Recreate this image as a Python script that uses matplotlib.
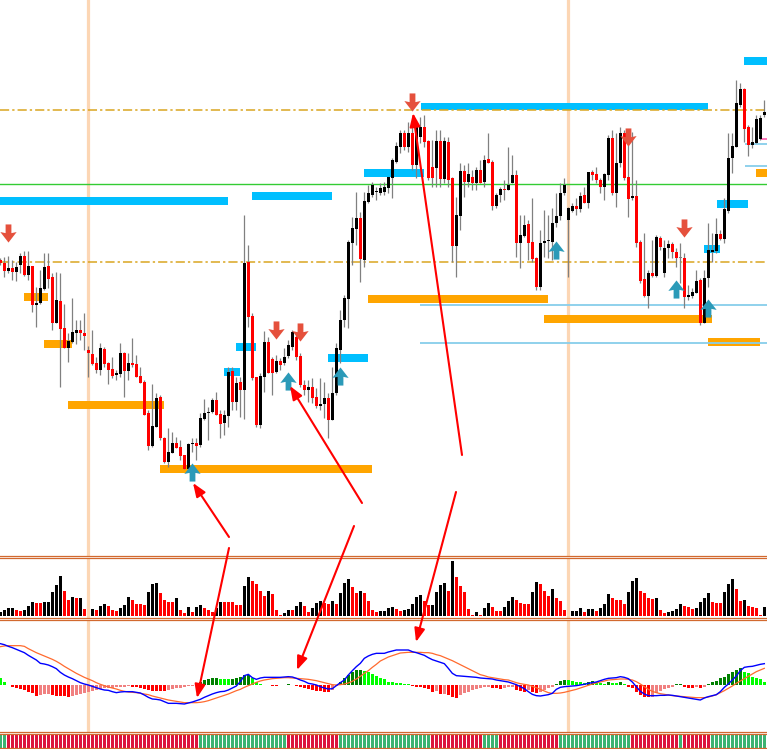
import numpy as np
import matplotlib
matplotlib.use("Agg")
import matplotlib.pyplot as plt
from matplotlib.path import Path
from matplotlib.patches import FancyArrowPatch

# candles (price in chart points)
opens = [340, 337, 329, 332, 328, 335, 344, 325, 334, 295,
         297, 311, 334, 323, 277, 299, 272, 252, 258, 267,
         270, 267, 250, 246, 237, 230, 251, 237, 231, 225,
         226, 247, 229, 237, 236, 224, 218, 187, 154, 173,
         203, 162, 138, 147, 157, 153, 145, 131, 156, 157,
         155, 181, 187, 188, 200, 186, 177, 184, 229, 198,
         218, 210, 338, 284, 223, 175, 223, 258, 241, 228,
         239, 237, 244, 253, 263, 244, 215, 210, 213, 203,
         194, 196, 202, 180, 207, 250, 280, 301, 357, 371,
         382, 340, 398, 405, 408, 407, 408, 412, 422, 438,
         453, 467, 453, 467, 435, 463, 473, 459, 433, 432,
         459, 421, 458, 422, 354, 384, 429, 418, 423, 417,
         430, 418, 441, 438, 394, 405, 411, 410, 417, 425,
         357, 364, 376, 358, 342, 313, 357, 359, 358, 377,
         384, 407, 380, 389, 394, 391, 405, 397, 428, 426,
         420, 413, 425, 462, 407, 437, 467, 423, 402, 404,
         358, 321, 304, 327, 324, 362, 327, 352, 356, 348,
         342, 342, 303, 304, 307, 320, 277, 322, 348, 349,
         366, 361, 389, 442, 453, 495, 511, 473, 455, 457,
         461, 485]
highs = [342, 343, 344, 340, 338, 347, 349, 349, 334, 313,
         330, 347, 347, 327, 328, 327, 296, 267, 302, 280,
         280, 287, 254, 270, 243, 257, 253, 238, 243, 230,
         257, 248, 247, 262, 245, 233, 220, 190, 216, 207,
         205, 163, 172, 168, 163, 160, 145, 157, 162, 162,
         187, 201, 193, 202, 208, 190, 190, 233, 233, 223,
         223, 385, 355, 287, 223, 227, 269, 263, 243, 245,
         242, 252, 260, 270, 268, 247, 220, 220, 222, 212,
         222, 218, 207, 233, 257, 290, 305, 360, 383, 408,
         388, 408, 415, 418, 413, 417, 418, 423, 442, 458,
         470, 470, 478, 477, 480, 483, 485, 460, 460, 470,
         470, 463, 463, 423, 403, 437, 435, 437, 430, 433,
         440, 445, 467, 440, 407, 413, 420, 453, 445, 430,
         385, 385, 380, 402, 343, 370, 390, 385, 392, 407,
         417, 422, 393, 397, 402, 408, 413, 428, 430, 433,
         422, 427, 465, 470, 467, 473, 470, 462, 468, 420,
         360, 367, 330, 360, 365, 364, 360, 360, 358, 352,
         357, 347, 315, 312, 330, 322, 330, 377, 367, 382,
         370, 402, 467, 467, 520, 517, 512, 475, 473, 485,
         485, 500]
lows = [335, 323, 327, 320, 319, 327, 324, 320, 288, 273,
        296, 310, 312, 270, 277, 213, 252, 238, 257, 256,
        260, 250, 223, 235, 227, 225, 233, 216, 222, 220,
        223, 203, 220, 233, 223, 217, 185, 150, 153, 173,
        160, 137, 133, 147, 152, 140, 131, 130, 148, 140,
        153, 180, 160, 187, 185, 162, 165, 173, 190, 190,
        183, 181, 273, 220, 173, 172, 208, 227, 205, 227,
        230, 235, 242, 250, 240, 213, 205, 198, 197, 192,
        190, 182, 162, 180, 205, 237, 273, 272, 335, 355,
        318, 333, 397, 403, 400, 405, 405, 407, 402, 437,
        447, 450, 448, 430, 422, 457, 453, 420, 413, 413,
        413, 417, 413, 338, 323, 370, 403, 413, 410, 410,
        417, 413, 437, 390, 392, 398, 400, 410, 417, 343,
        332, 363, 340, 338, 310, 310, 343, 342, 340, 373,
        380, 405, 323, 388, 385, 388, 397, 392, 420, 417,
        407, 400, 420, 405, 393, 433, 420, 383, 400, 353,
        317, 303, 292, 323, 323, 350, 323, 342, 342, 333,
        317, 292, 300, 302, 307, 275, 277, 313, 338, 347,
        360, 357, 387, 427, 453, 493, 458, 444, 452, 457,
        460, 483]
closes = [337, 329, 332, 328, 333, 344, 325, 334, 295, 297,
          312, 333, 321, 277, 300, 271, 252, 259, 268, 270,
          267, 264, 247, 236, 230, 252, 236, 230, 224, 227,
          247, 229, 237, 235, 223, 217, 185, 154, 174, 202,
          162, 138, 148, 157, 152, 144, 131, 156, 157, 154,
          182, 187, 188, 200, 185, 176, 185, 228, 198, 217,
          210, 337, 283, 222, 175, 224, 258, 227, 227, 239,
          235, 243, 255, 268, 243, 215, 210, 213, 202, 194,
          196, 202, 180, 207, 252, 280, 302, 358, 372, 382,
          341, 399, 407, 415, 409, 412, 413, 423, 440, 454,
          467, 453, 467, 435, 473, 473, 458, 422, 422, 459,
          421, 459, 420, 354, 385, 429, 418, 426, 417, 430,
          417, 440, 437, 394, 405, 411, 410, 415, 425, 357,
          365, 375, 357, 341, 313, 357, 359, 360, 377, 384,
          407, 415, 392, 394, 391, 404, 397, 428, 425, 420,
          413, 426, 462, 407, 437, 467, 422, 401, 404, 357,
          319, 304, 327, 324, 363, 353, 352, 356, 348, 342,
          342, 303, 305, 308, 319, 277, 322, 350, 350, 366,
          361, 391, 442, 454, 497, 511, 471, 455, 458, 481,
          482, 488]

volumes = [13, 18, 23, 24, 17, 15, 17, 30, 42, 40,
           40, 42, 43, 72, 93, 120, 75, 48, 58, 54,
           55, 21, 1, 21, 17, 30, 36, 30, 18, 15,
           24, 33, 57, 48, 36, 35, 33, 72, 95, 98,
           70, 48, 43, 43, 53, 18, 8, 26, 13, 26,
           33, 25, 18, 13, 23, 43, 43, 41, 41, 33,
           33, 90, 118, 105, 95, 75, 60, 75, 66, 18,
           3, 10, 18, 18, 30, 43, 30, 13, 23, 38,
           46, 38, 36, 46, 36, 68, 98, 111, 88, 68,
           75, 68, 46, 18, 13, 15, 16, 23, 28, 21,
           16, 18, 21, 36, 58, 63, 46, 33, 34, 72,
           93, 99, 75, 165, 118, 90, 73, 21, 3, 13,
           3, 23, 40, 28, 16, 15, 26, 45, 58, 48,
           40, 36, 35, 73, 101, 95, 76, 60, 80, 55,
           46, 18, 1, 15, 16, 23, 13, 20, 21, 16,
           23, 36, 65, 55, 48, 47, 36, 73, 106, 115,
           75, 70, 55, 51, 55, 18, 10, 13, 14, 20,
           36, 31, 28, 20, 23, 43, 53, 68, 43, 40,
           38, 73, 95, 111, 80, 46, 48, 30, 26, 25,
           3, 26]

macd_hist = [22, 10, 1, -6, -10, -13, -16, -20, -25, -32,
             -30, -28, -27, -30, -32, -33, -34, -35, -32, -29,
             -26, -23, -20, -17, -14, -12, -10, -9, -8, -7,
             -6, -5, -4, -5, -6, -8, -12, -16, -17, -18,
             -18.5, -19, -16, -13, -10, -8, -6, -4, -2, 2,
             8, 14, 18, 20, 21, 19, 18, 17, 18, 20,
             25, 30, 31, 20, 8, 2, 1, 1.5, -2, -2.5,
             -1, 1, 2, 1, -3, -6, -9, -12, -15, -17,
             -19, -20, -21, -14, -4, 8, 20, 30, 40, 45,
             46, 42, 38, 33, 28, 22, 18, 10, 8, 7,
             6, 4, 2, -4, -5, -7, -9, -13, -20, -19,
             -28, -26, -30, -36, -38, -30, -25, -20, -15, -11,
             -8, -7, -5, -8, -10, -10.5, -8, -7, -5, -15,
             -18, -20, -15, -20, -25, -20, -15, -10, -5, 3,
             13, 15, 14.5, 12, 10, 8, 7, 10, 11, 8,
             5, 4.5, 8, 7, 5, 8, 2, -5, -10, -20,
             -30, -35, -37, -35, -25, -18, -12, -8, -5, 2,
             2.5, -5, -8, -10, -5, -10, -5, 3, 8, 13,
             20, 25, 32, 38, 45, 50, 40, 35, 25, 20,
             17, 10]
macd_main = [124, 121, 116, 112, 107, 102, 97, 89, 82, 75,
             65, 63, 60, 55, 49, 38, 30, 24, 19, 13,
             7, 3, 0, -4, -8, -12, -15, -16, -20, -23,
             -21, -20, -20, -20, -22, -24, -30, -37, -42, -43,
             -45, -50, -55, -55, -55, -56, -57, -54, -51, -47,
             -43, -37, -32, -27, -23, -20, -19, -15, -9, -3,
             10, 28, 32, 22, 17, 21, 23, 23, 23, 23,
             23, 24, 25, 24, 20, 15, 11, 5, 3, 0,
             -5, -9, -12, -11, -2, 7, 15, 30, 43, 55,
             65, 80, 87, 92, 95, 95, 95, 99, 102, 105,
             105, 105, 105, 100, 97, 93, 89, 82, 76, 72,
             68, 64, 50, 35, 28, 27, 26, 25, 24, 23,
             21, 20, 19, 18, 15, 13, 11, 9, 5, 1,
             -5, -11, -20, -28, -32, -33, -31, -29, -25, -13,
             -7, -5, -4, -3, -2, 0, 2, 5, 7, 9,
             13, 17, 20, 21, 22, 25, 23, 19, 9, -5,
             -19, -27, -32, -32, -32, -31, -31, -30, -31, -33,
             -35, -37, -39, -41, -43, -45, -39, -35, -32, -29,
             -20, -7, 3, 15, 27, 43, 53, 55, 56, 59,
             62, 64]
macd_signal = [115, 117, 118, 118, 118, 118, 116, 109, 103, 97,
               92, 87, 82, 77, 71, 64, 56, 49, 42, 35,
               29, 23, 18, 13, 7, 2, -2, -6, -9, -12,
               -16, -19, -21, -22, -23, -25, -27, -29, -33, -36,
               -39, -42, -45, -47, -49, -51, -53, -53, -53, -53,
               -52, -50, -47, -43, -39, -35, -31, -27, -22, -17,
               -13, -7, -2, 3, 8, 12, 15, 17, 19, 20,
               21, 22, 22, 21, 20, 19, 18, 17, 15, 13,
               10, 7, 4, 1, 0, 1, 3, 6, 11, 18,
               26, 35, 43, 53, 62, 72, 78, 84, 88, 92,
               96, 97, 98, 98, 98, 98, 97, 97, 95, 91,
               88, 83, 78, 73, 67, 61, 55, 49, 43, 37,
               31, 28, 24, 22, 20, 18, 16, 15, 11, 7,
               4, 2, 0, -4, -8, -13, -18, -23, -25, -25,
               -24, -22, -19, -16, -13, -9, -5, -1, 3, 6,
               9, 12, 15, 16, 17, 18, 18, 17, 15, 10,
               3, -5, -13, -19, -23, -26, -28, -30, -32, -33,
               -34, -35, -36, -37, -38, -38, -38, -36, -33, -29,
               -23, -17, -10, -3, 5, 12, 19, 26, 33, 40,
               45, 50]

# trend strip: (colour, number of bars)
strip_runs = [("g", 2), ("r", 48), ("g", 22), ("r", 13), ("g", 23), ("r", 13),
              ("g", 4), ("r", 15), ("g", 18), ("r", 12), ("g", 1), ("r", 7),
              ("g", 14)]

# zones: (first bar, last bar, low price, high price)
supply_zones = [(-0.5, 56.9, 395, 403), (63.0, 82.8, 400, 408), (58.9, 63.9, 249, 257),
                (55.9, 59.9, 224, 232), (91.0, 105.9, 423, 431), (82.0, 92.0, 238, 246),
                (105.1, 177.0, 490, 497), (179.1, 187.0, 392, 400), (175.9, 179.9, 347, 355),
                (186.0, 192.0, 535, 543)]
demand_zones = [(5.9, 11.8, 299, 307), (10.9, 17.8, 252, 260), (16.9, 40.9, 191, 199),
                (39.9, 92.8, 127, 135), (92.0, 136.8, 297, 305), (135.9, 177.8, 277, 285),
                (177.0, 189.9, 254, 262), (188.9, 192.0, 423, 431)]

# horizontal levels
green_level = 415.7
pivot_levels = [338, 489.7]
sky_levels = [(105.0, 295), (105.0, 257.3), (186.2, 456), (186.2, 434)]
pink_level = (189.9, 461)

# signal arrows: (bar, price)
sell_signals = [(2, 367), (69, 270), (75, 268), (103, 498), (157, 463), (171, 372)]
buy_signals = [(48, 128), (72, 219), (85, 224), (139, 350), (169, 311), (177, 292)]

session_bars = [22, 142]

# hand-drawn red annotation arrows, figure pixels (from, to)
notes = [((229, 537), (193, 483)), ((229, 548), (197, 698)),
         ((362, 503), (290, 386)), ((354, 526), (297, 670)),
         ((462, 455), (413, 113)), ((456, 492), (416, 642))]

W, H = 767, 749
fig = plt.figure(figsize=(W / 100, H / 100), dpi=100)
fig.patch.set_facecolor("white")
sep = "#D2692F"


def panel(top, bottom):
    ax = fig.add_axes([0, 1 - bottom / H, 1, (bottom - top) / H])
    ax.set_xticks([])
    ax.set_yticks([])
    for s in ("left", "right"):
        ax.spines[s].set_visible(False)
    for s in ("top", "bottom"):
        ax.spines[s].set_color(sep)
        ax.spines[s].set_linewidth(0.9)
    ax.set_xlim(-0.33 / 4, (W - 0.33) / 4)
    return ax


ax = panel(0, 555.5)
ax.spines["top"].set_visible(False)
axv = panel(557.5, 617.5)
axm = panel(619.5, 731.5)
axs = panel(733.5, 747.5)

idx = np.arange(len(opens))
o, hi, lo, c = (np.array(a, dtype=float) for a in (opens, highs, lows, closes))

for a in (ax, axv, axm):
    for b in session_bars:
        a.axvline(b, color="#FCD6B4", lw=2.3, zorder=0)

# zones
for x0, x1, p0, p1 in supply_zones:
    ax.broken_barh([(x0, x1 - x0)], (p0, p1 - p0), facecolors="#00BFFF", zorder=1)
for x0, x1, p0, p1 in demand_zones:
    ax.broken_barh([(x0, x1 - x0)], (p0, p1 - p0), facecolors="#FFA500", zorder=1)

ax.axhline(green_level, color="#33CC33", lw=1.0, zorder=2)
for p in pivot_levels:
    ax.axhline(p, color="#DAA520", lw=1.1, ls=(0, (6, 2, 1.5, 2)), zorder=2)
for x0, p in sky_levels:
    ax.hlines(p, x0, 192, color="#87CEEB", lw=1.3, zorder=2)
ax.hlines(pink_level[1], pink_level[0], 192, color="#FF69B4", lw=1.3, zorder=2)

# candles
body_col = np.where(c > o, "black", np.where(c < o, "red", "#808080"))
ax.vlines(idx, lo, hi, color="#808080", lw=0.9, zorder=3)
ax.bar(idx, np.maximum(np.abs(c - o), 1.0), bottom=np.minimum(o, c), width=0.8,
       color=body_col, zorder=4)

# signal arrows
down = Path([(-0.16, 0.5), (0.16, 0.5), (0.16, 0.02), (0.45, 0.08), (0, -0.5),
             (-0.45, 0.08), (-0.16, 0.02), (-0.16, 0.5)], closed=True)
up = Path([(x, -y) for x, y in down.vertices], closed=True)
ax.scatter([s[0] for s in sell_signals], [s[1] for s in sell_signals], marker=down,
           s=170, color="#E5503C", zorder=6, linewidths=0)
ax.scatter([s[0] for s in buy_signals], [s[1] for s in buy_signals], marker=up,
           s=170, color="#2B9AB8", zorder=6, linewidths=0)
ax.set_ylim(44.5, 600)

# volume
vol = np.array(volumes, dtype=float)
vol_col = ["black"] + ["black" if vol[k] > vol[k - 1] else "red" for k in range(1, len(vol))]
axv.bar(idx, vol, width=0.78, color=vol_col, zorder=2)
axv.set_ylim(-4.5, 175.5)

# macd
hist = np.array(macd_hist, dtype=float)
hcol = []
for k, v in enumerate(hist):
    prev = hist[k - 1] if k else v + 1
    if v >= 0:
        hcol.append("#008000" if v > prev else "#00FF00")
    else:
        hcol.append("#F08080" if v > prev else "#FF0000")
axm.bar(idx, hist, width=0.78, color=hcol, zorder=2)
axm.plot(idx, macd_signal, color="#FF6A2E", lw=0.9, zorder=3)
axm.plot(idx, macd_main, color="#0000FF", lw=1.0, zorder=4)
axm.set_ylim(-139.5, 196.5)

# trend strip
strip_col = []
for col, n in strip_runs:
    strip_col += ["#3CB371" if col == "g" else "#DC143C"] * n
axs.bar(idx, np.ones(len(idx)), width=0.75, color=strip_col)
axs.set_ylim(0, 1)

for (x0, y0), (x1, y1) in notes:
    fig.add_artist(FancyArrowPatch((x0 / W, 1 - y0 / H), (x1 / W, 1 - y1 / H),
                                   transform=fig.transFigure,
                                   arrowstyle="-|>,head_length=0.9,head_width=0.35",
                                   mutation_scale=9, lw=1.5, color="#FF0000",
                                   shrinkA=0, shrinkB=0, zorder=10))

fig.savefig("out.png", dpi=100)
